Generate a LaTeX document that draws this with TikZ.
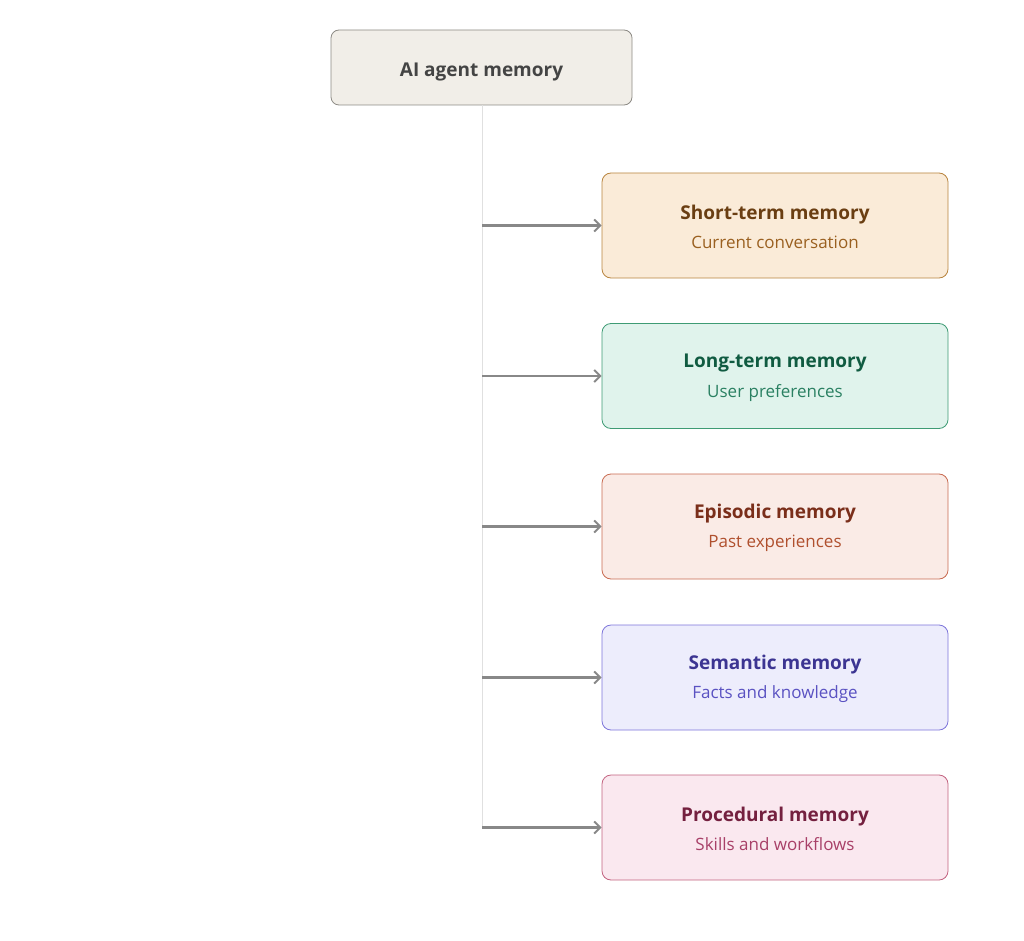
\documentclass[tikz,border=0pt]{standalone}
\usepackage{fontspec}
\setmainfont{Open Sans}
\usetikzlibrary{arrows.meta}
\definecolor{rootfill}{HTML}{F1EEE8}
\definecolor{rootdraw}{HTML}{8C8A84}
\definecolor{roottext}{HTML}{444444}
\definecolor{trunk}{HTML}{E0E0E0}
\definecolor{arr}{HTML}{888888}
\definecolor{stF}{HTML}{FAEBD8}\definecolor{stD}{HTML}{B8843E}\definecolor{stT}{HTML}{6A3E12}\definecolor{stS}{HTML}{9A6020}
\definecolor{ltF}{HTML}{E0F3EC}\definecolor{ltD}{HTML}{3E9B74}\definecolor{ltT}{HTML}{105B41}\definecolor{ltS}{HTML}{2A8062}
\definecolor{epF}{HTML}{FAEBE6}\definecolor{epD}{HTML}{C86A50}\definecolor{epT}{HTML}{7A2E1A}\definecolor{epS}{HTML}{B0502E}
\definecolor{smF}{HTML}{EDEDFC}\definecolor{smD}{HTML}{7C74DA}\definecolor{smT}{HTML}{3C3592}\definecolor{smS}{HTML}{5A52C2}
\definecolor{prF}{HTML}{FAE8EF}\definecolor{prD}{HTML}{C2627F}\definecolor{prT}{HTML}{74203F}\definecolor{prS}{HTML}{A84068}
\tikzset{
  rootbox/.style={draw=rootdraw, fill=rootfill, rounded corners=8pt, line width=0.8pt,
    minimum width=301pt, minimum height=75pt, text=roottext, text height=18pt, text depth=0pt,
    font=\fontsize{19}{23}\selectfont\bfseries},
  membox/.style 2 args={draw=#2, fill=#1, rounded corners=9pt, line width=0.8pt,
    minimum width=346pt, minimum height=105pt, align=center, font=\fontsize{19}{29.5}\selectfont},
  conn/.style={draw=arr, line width=2.4pt, -{Straight Barb[length=6pt,width=12pt,line width=2pt]}},
}
\newcommand{\memtext}[4]{\rule{0pt}{17pt}{\color{#1}\bfseries #3}\\{\color{#2}\fontsize{17}{29.5}\selectfont #4}}
\begin{document}
\begin{tikzpicture}[x=1pt,y=-1pt]
\useasboundingbox (0,0) rectangle (1024,941);
\node[rootbox] (root) at (481.5,67.5) {AI agent memory};
\node[membox={stF}{stD}] (st) at (775,225.5) {\memtext{stT}{stS}{Short-term memory}{Current conversation}};
\node[membox={ltF}{ltD}] (lt) at (775,376) {\memtext{ltT}{ltS}{Long-term memory}{User preferences}};
\node[membox={epF}{epD}] (ep) at (775,526.5) {\memtext{epT}{epS}{Episodic memory}{Past experiences}};
\node[membox={smF}{smD}] (sm) at (775,677.5) {\memtext{smT}{smS}{Semantic memory}{Facts and knowledge}};
\node[membox={prF}{prD}] (pr) at (775,827.5) {\memtext{prT}{prS}{Procedural memory}{Skills and workflows}};
\coordinate (b1) at (482,225.5);
\coordinate (b2) at (482,376);
\coordinate (b3) at (482,526.5);
\coordinate (b4) at (482,677.5);
\coordinate (b5) at (482,827.5);
\draw[trunk, line width=1pt] (root.south -| b1) -- (b5);
\draw[conn] (b1) -- (st.west);
\draw[conn] (b2) -- (lt.west);
\draw[conn] (b3) -- (ep.west);
\draw[conn] (b4) -- (sm.west);
\draw[conn] (b5) -- (pr.west);
\end{tikzpicture}
\end{document}
